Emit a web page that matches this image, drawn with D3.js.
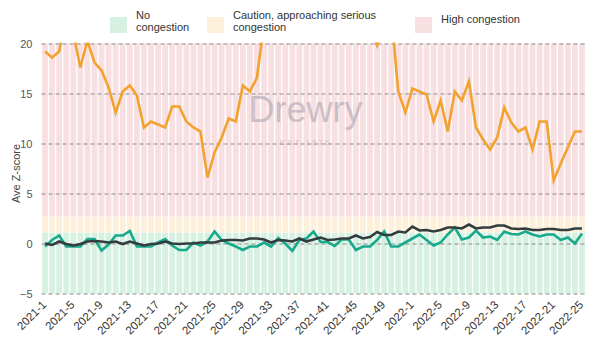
<!DOCTYPE html>
<html>
<head>
<meta charset="utf-8">
<script src="https://cdn.jsdelivr.net/npm/d3@7"></script>
<style>
  body { margin: 0; background: #fff; overflow: hidden; }
  svg { display: block; font-family: "Liberation Sans", Arial, sans-serif; }
</style>
</head>
<body>
<svg width="600" height="350"></svg>
<script>
  // week categories: 2021-1 .. 2021-52, 2022-1 .. 2022-25
  const weeks = d3.range(1, 53).map(w => '2021-' + w)
    .concat(d3.range(1, 26).map(w => '2022-' + w));

  // congestion zones (Ave Z-score bounds)
  const zones = [
    { name: 'No congestion', lines: ['No', 'congestion'], from: -5, to: 1.1, color: '#d6f1e2' },
    { name: 'Caution', lines: ['Caution, approaching serious', 'congestion'], from: 1.1, to: 2.7, color: '#fdf0da' },
    { name: 'High congestion', lines: ['High congestion'], from: 2.7, to: 20, color: '#f8e0e2' }
  ];

  const orangeValues = [
    19.2, 18.6, 19.2, 23.0, 21.0, 17.6, 20.3, 18.1, 17.3, 15.6,
    13.1, 15.2, 15.8, 14.8, 11.6, 12.2, 11.9, 11.6, 13.7, 13.7,
    12.2, 11.6, 11.2, 6.6, 9.1, 10.6, 12.5, 12.2, 15.8, 15.2,
    16.6, 22.0, 25.0, 28.0, 27.0, 30.0, 32.0, 29.0, 31.0, 33.0,
    30.0, 28.0, 27.0, 26.0, 24.0, 23.0, 21.5, 19.8, 22.0, 23.0,
    15.2, 13.1, 15.5, 15.2, 14.9, 12.2, 14.3, 11.2, 15.2, 14.3,
    16.2, 11.6, 10.4, 9.4, 10.6, 13.6, 12.1, 11.2, 11.6, 9.4,
    12.2, 12.2, 6.3, 8.0, 9.6, 11.2, 11.2
  ];

  const tealValues = [
    -0.3, 0.35, 0.8, -0.3, -0.3, -0.3, 0.45, 0.45, -0.7, -0.1,
    0.8, 0.8, 1.25, -0.3, -0.3, -0.3, 0.1, 0.45, -0.2, -0.65,
    -0.65, 0.1, -0.2, 0.2, 1.2, 0.35, 0.0, -0.3, -0.65, -0.3,
    -0.3, 0.1, -0.3, 0.55, 0.0, -0.75, 0.35, 0.5, 1.2, 0.15,
    0.15, -0.25, 0.4, 0.4, -0.65, -0.3, -0.3, 0.35, 1.2, -0.3,
    -0.3, 0.1, 0.5, 0.9, 0.35, -0.2, 0.1, 0.9, 1.6, 0.4,
    0.6, 1.3, 0.6, 0.7, 0.35, 1.2, 0.95, 0.9, 1.2, 0.9,
    0.7, 0.9, 0.9, 0.35, 0.6, 0.0, 1.0
  ];

  const darkValues = [
    0.0, -0.15, 0.2, -0.05, -0.2, -0.05, 0.2, 0.25, 0.2, 0.1,
    0.2, -0.05, 0.2, 0.0, -0.2, -0.05, 0.0, 0.2, 0.0, -0.05,
    0.0, 0.0, 0.1, 0.1, 0.1, 0.3, 0.35, 0.35, 0.3, 0.5,
    0.5, 0.4, 0.1, 0.35, 0.3, 0.2, 0.5, 0.2, 0.4, 0.6,
    0.35, 0.4, 0.5, 0.5, 0.8, 0.5, 0.65, 1.15, 0.85, 0.85,
    1.2, 1.1, 1.7, 1.3, 1.35, 1.2, 1.35, 1.6, 1.6, 1.5,
    1.9, 1.5, 1.6, 1.6, 1.8, 1.8, 1.5, 1.45, 1.5, 1.35,
    1.35, 1.45, 1.45, 1.35, 1.35, 1.5, 1.5
  ];

  const series = [
    { key: 'orange', values: orangeValues, color: '#f2a22e' },
    { key: 'teal', values: tealValues, color: '#19a98b' },
    { key: 'dark', values: darkValues, color: '#333d40' }
  ];

  const yTicks = [-5, 0, 5, 10, 15, 20];
  const xTickLabels = weeks.filter((d, i) => i % 4 === 0);

  const svg = d3.select('svg');
  const margin = { top: 43.5, left: 41.5, right: 14.5, bottom: 56.5 };
  const width = +svg.attr('width');
  const height = +svg.attr('height');
  const innerWidth = width - margin.left - margin.right;
  const innerHeight = height - margin.top - margin.bottom;

  const xBand = d3.scaleBand()
    .domain(weeks)
    .range([0, innerWidth])
    .paddingInner(0.18)
    .paddingOuter(0.09);

  const xPoint = d => xBand(d) + xBand.bandwidth() / 2;

  const yScale = d3.scaleLinear()
    .domain([-5, 20])
    .range([innerHeight, 0]);

  const g = svg.append('g')
    .attr('transform', `translate(${margin.left},${margin.top})`);

  // background zone bars, one stack per week
  zones.forEach(z => {
    g.append('g').selectAll('rect').data(weeks)
      .enter().append('rect')
        .attr('x', d => xBand(d))
        .attr('width', xBand.bandwidth())
        .attr('y', yScale(z.to))
        .attr('height', yScale(z.from) - yScale(z.to))
        .attr('fill', z.color);
  });

  // watermark
  const wm = g.append('g').attr('opacity', 0.5);
  wm.append('text')
    .attr('x', 264).attr('y', 78)
    .attr('text-anchor', 'middle')
    .style('font-size', '36px')
    .attr('fill', '#9f98a6')
    .text('Drewry');
  wm.append('text')
    .attr('x', 264).attr('y', 101)
    .attr('text-anchor', 'middle')
    .style('font-size', '8px')
    .style('letter-spacing', '2px')
    .attr('fill', '#a9a2ad')
    .text('EST 1976');

  // y axis with dashed grid
  const yAxis = d3.axisLeft(yScale)
    .tickValues(yTicks)
    .tickSize(-innerWidth)
    .tickPadding(9);

  const yAxisG = g.append('g').call(yAxis);
  yAxisG.select('.domain').remove();
  yAxisG.selectAll('line')
    .attr('stroke', '#8a8a8a')
    .attr('stroke-dasharray', '4,3');
  yAxisG.selectAll('text')
    .style('font-size', '11px')
    .attr('fill', '#555');

  g.append('text')
    .attr('transform', 'rotate(-90)')
    .attr('x', -130)
    .attr('y', -22)
    .attr('text-anchor', 'middle')
    .style('font-size', '11px')
    .attr('fill', '#444')
    .text('Ave Z-score');

  // x axis labels
  const xAxis = d3.axisBottom(xBand)
    .tickValues(xTickLabels)
    .tickSize(0)
    .tickPadding(0);

  const xAxisG = g.append('g')
    .attr('transform', `translate(0,${innerHeight})`)
    .call(xAxis);
  xAxisG.select('.domain').remove();
  xAxisG.selectAll('text')
    .style('font-size', '11.5px')
    .attr('fill', '#333')
    .attr('text-anchor', 'end')
    .attr('dy', 0)
    .attr('y', 0)
    .attr('transform', 'translate(2,12) rotate(-45)');

  // lines, clipped to the plot area
  svg.append('clipPath').attr('id', 'plot-clip')
    .append('rect')
      .attr('x', 0).attr('y', -1)
      .attr('width', innerWidth).attr('height', innerHeight + 2);

  const line = d3.line()
    .x((d, i) => xPoint(weeks[i]))
    .y(d => yScale(d));

  g.append('g')
    .attr('clip-path', 'url(#plot-clip)')
    .selectAll('path').data(series)
    .enter().append('path')
      .attr('d', d => line(d.values))
      .attr('fill', 'none')
      .attr('stroke', d => d.color)
      .attr('stroke-width', 2.6)
      .attr('stroke-linejoin', 'miter');

  // legend
  const legendX = [110, 207, 415];
  const legend = svg.append('g');
  zones.forEach((z, i) => {
    const lg = legend.append('g')
      .attr('transform', `translate(${legendX[i]},17)`);
    lg.append('rect')
      .attr('width', 17).attr('height', 16)
      .attr('fill', z.color);
    const t = lg.append('text')
      .attr('x', 26)
      .style('font-size', '11px')
      .attr('fill', '#333');
    if (z.lines.length === 1) {
      t.attr('y', 5.5).text(z.lines[0]);
    } else {
      z.lines.forEach((l, j) => {
        t.append('tspan')
          .attr('x', 26)
          .attr('y', 2 + j * 11.5)
          .text(l);
      });
    }
  });
</script>
</body>
</html>
